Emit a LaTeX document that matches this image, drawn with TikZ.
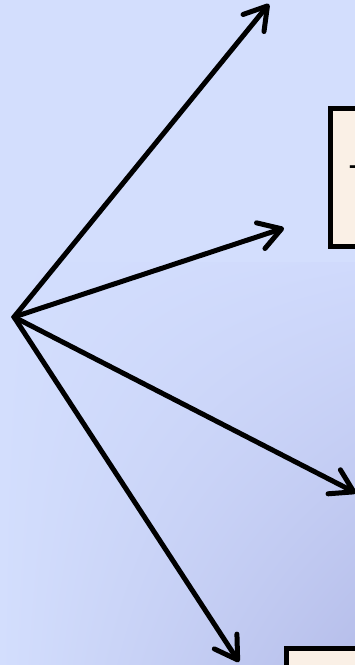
\documentclass[tikz,border=0pt]{standalone}
\usepackage{fontspec}
\setmainfont{Liberation Sans}
\usetikzlibrary{arrows.meta,shadings}
\definecolor{bglight}{RGB}{211,222,253}
\definecolor{bgmid}{RGB}{208,218,252}
\definecolor{bgdark}{RGB}{182,190,234}
\definecolor{cardfill}{RGB}{250,240,230}
\begin{document}
\begin{tikzpicture}[x=1pt, y=-1pt,
    ray/.style={line width=5pt, line cap=round,
      -{Straight Barb[length=22pt, width=27pt, line cap=round, line join=round]}},
    card/.style={rectangle, draw, line width=4.5pt, fill=cardfill, anchor=north west}]
        \useasboundingbox (0,0) rectangle (355,665);
        \clip (0,0) rectangle (355,665);
        % Background
        \fill[bglight] (0,0) rectangle (355,665);
        \shade[upper left=bglight, upper right=bgmid, lower left=bglight, lower right=bgdark] (0,262) rectangle (355,665);

        % Boxes (partly off the page)
        \node (upper) at (328,106) [card, minimum width=220pt, minimum height=138pt] {};
        \node (lower) at (284,646) [card, minimum width=220pt, minimum height=80pt] {};
        \node (label) at (349,190) [anchor=base west, inner sep=0pt, font=\fontsize{36}{40}\selectfont] {T};

        % Source and ends of the rays
        \coordinate (hub) at (14,317);
        \coordinate (t1) at (269,4);
        \coordinate (t2) at (284,228);
        \coordinate (t3) at (356,493);
        \coordinate (t4) at (239,662);

        % Rays
        \draw[ray] (hub) -- (t1);
        \draw[ray] (hub) -- (t2);
        \draw[ray] (hub) -- (t3);
        \draw[ray] (hub) -- (t4);
      \end{tikzpicture}
\end{document}
